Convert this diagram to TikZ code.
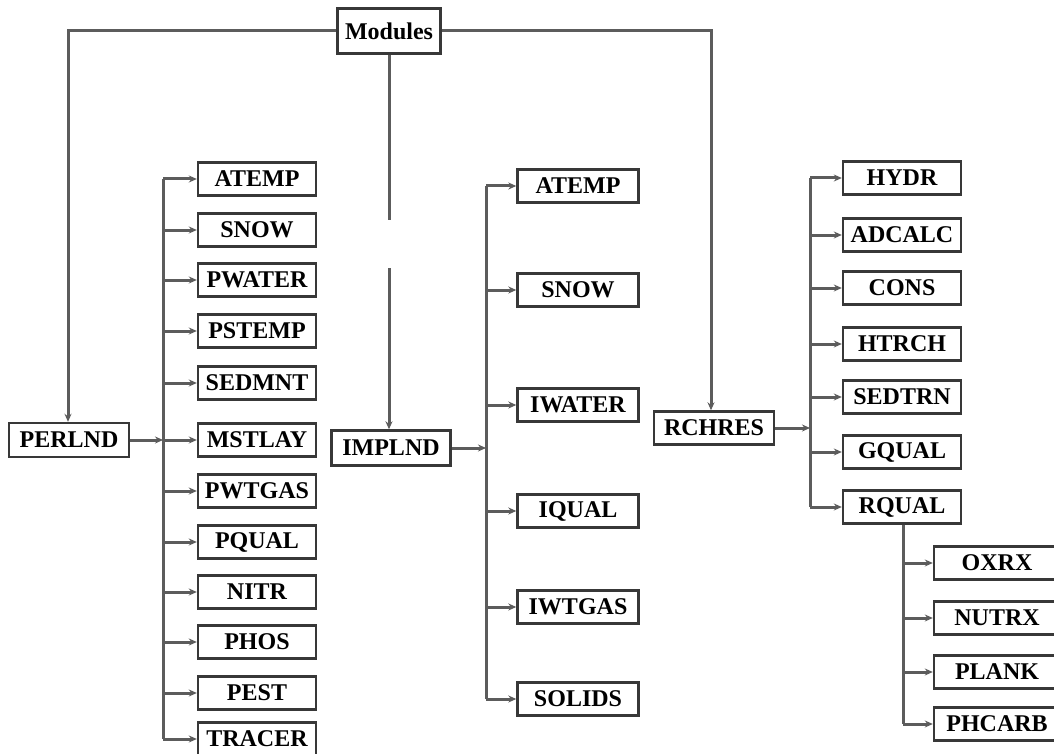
\documentclass[tikz,border=0pt]{standalone}
\usepackage{fontspec}
\setmainfont{Liberation Serif}
\usetikzlibrary{arrows.meta}
\begin{document}
\begin{tikzpicture}[x=1pt,y=-1pt,
  box/.style={draw=black!78, line width=2.4pt, fill=white, minimum width=118pt, minimum height=33pt, inner sep=0pt, font=\fontsize{24}{24}\selectfont\bfseries},
  conn/.style={draw=black!64, line width=3pt},
  arr/.style={conn, -{Stealth[length=8pt,width=7pt,fill=black!85]}}]
\useasboundingbox (0,0) rectangle (1054,754);
\clip (0,0) rectangle (1054,754);
\fill[white] (0,0) rectangle (1054,754);

% top level
\node[box, minimum width=103pt, minimum height=45pt] (modules) at (389,31) {Modules};
\node[box, minimum width=120pt, minimum height=34pt] (perlnd) at (69,440) {PERLND};
\node[box, minimum width=119pt, minimum height=35pt] (implnd) at (391,448) {IMPLND};
\node[box, minimum width=120pt, minimum height=33pt] (rchres) at (714,428) {RCHRES};

\coordinate (cl) at (68,31);
\coordinate (cr) at (711,31);
\coordinate (g1) at (389,220);
\coordinate (g2) at (389,268);
\draw[arr] (modules.west) -- (cl) -- (cl |- perlnd.north);
\draw[arr] (modules.east) -- (cr) -- (cr |- rchres.north);
\draw[conn] (modules.south) -- (g1);
\draw[arr] (g2) -- (g2 |- implnd.north);

% PERLND column
\foreach \n/\t/\y in {p1/ATEMP/179, p2/SNOW/230, p3/PWATER/280, p4/PSTEMP/331, p5/SEDMNT/383, p6/MSTLAY/440, p7/PWTGAS/491, p8/PQUAL/542, p9/NITR/592, p10/PHOS/642, p11/PEST/693, p12/TRACER/739}
  \node[box] (\n) at (257,\y) {\t};
\coordinate (pb) at (163,440);
\draw[arr] (perlnd) -- (pb);
\draw[conn] (pb |- p1) -- (pb |- p12);
\foreach \i in {1,...,12}
  \draw[arr] (pb |- p\i) -- (p\i);

% IMPLND column
\foreach \n/\t/\y in {i1/ATEMP/186, i2/SNOW/290, i3/IWATER/405, i4/IQUAL/511, i5/IWTGAS/607, i6/SOLIDS/699}
  \node[box, minimum width=121pt] (\n) at (578,\y) {\t};
\coordinate (ib) at (486,448);
\draw[arr] (implnd.east |- ib) -- (ib);
\draw[conn] (ib |- i1) -- (ib |- i6);
\foreach \i in {1,...,6}
  \draw[arr] (ib |- i\i) -- (i\i);

% RCHRES column
\foreach \n/\t/\y in {r1/HYDR/178, r2/ADCALC/235, r3/CONS/288, r4/HTRCH/344, r5/SEDTRN/397, r6/GQUAL/452, r7/RQUAL/507}
  \node[box] (\n) at (902,\y) {\t};
\coordinate (rb) at (810,428);
\draw[arr] (rchres) -- (rb);
\draw[conn] (rb |- r1) -- (rb |- r7);
\foreach \i in {1,...,7}
  \draw[arr] (rb |- r\i) -- (r\i);

% RQUAL sub-column
\foreach \n/\t/\y in {q1/OXRX/563, q2/NUTRX/618, q3/PLANK/672, q4/PHCARB/724}
  \node[box, minimum width=126pt] (\n) at (997,\y) {\t};
\coordinate (qb) at (903,525);
\draw[conn] (r7.south -| qb) -- (qb |- q4);
\foreach \i in {1,...,4}
  \draw[arr] (qb |- q\i) -- (q\i);
\end{tikzpicture}
\end{document}
